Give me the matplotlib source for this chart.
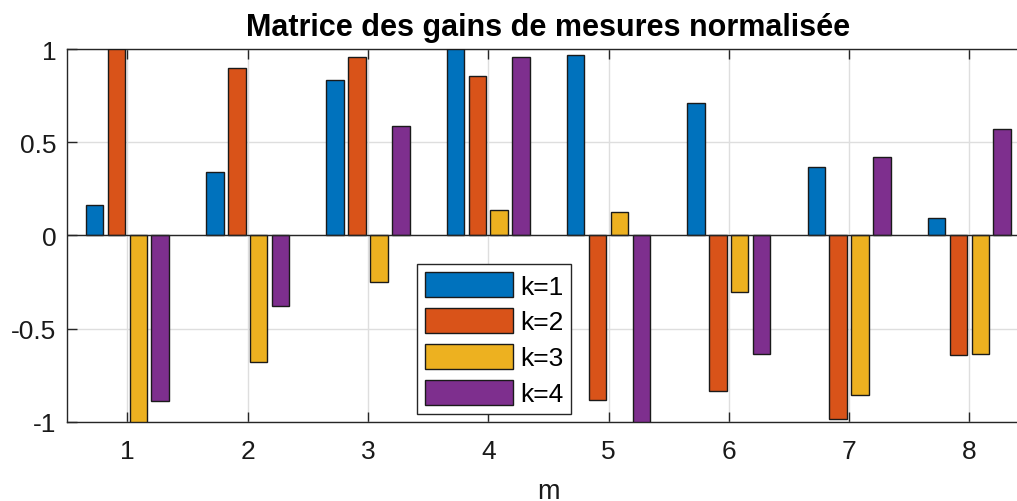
import numpy as np
import matplotlib
matplotlib.use("Agg")
import matplotlib.pyplot as plt

# Normalised measurement gain matrix: rows = measurement index m, columns = k
m_values = [1, 2, 3, 4, 5, 6, 7, 8]
gain_k1 = [0.161, 0.342, 0.833, 1.000, 0.970, 0.708, 0.367, 0.095]
gain_k2 = [1.000, 0.896, 0.955, 0.853, -0.884, -0.833, -0.986, -0.642]
gain_k3 = [-1.000, -0.677, -0.253, 0.138, 0.124, -0.305, -0.857, -0.636]
gain_k4 = [-0.891, -0.380, 0.586, 0.959, -1.000, -0.636, 0.419, 0.573]
series_labels = ["k=1", "k=2", "k=3", "k=4"]
y_ticks = [-1, -0.5, 0, 0.5, 1]
y_tick_labels = ["-1", "-0.5", "0", "0.5", "1"]

colors = ["#0072BD", "#D95319", "#EDB120", "#7E2F8E"]

plt.rcParams["font.family"] = ["Liberation Sans", "DejaVu Sans"]
plt.rcParams["axes.unicode_minus"] = False

W, H = 1017, 502
fig = plt.figure(figsize=(W / 100, H / 100), dpi=100)
ax = fig.add_axes([67.3 / W, 79.3 / H, (1029.5 - 67.3) / W, (422.7 - 50) / H])

series = [gain_k1, gain_k2, gain_k3, gain_k4]
n = len(series)
group_width = min(0.8, n / (n + 1.5))
step = group_width / n
bar_w = 0.8 * step
x = np.array(m_values, dtype=float)
for i, (vals, lab, col) in enumerate(zip(series, series_labels, colors)):
    ax.bar(x + (i - (n - 1) / 2) * step, vals, width=bar_w, color=col,
           edgecolor="#1a1a1a", linewidth=1.0, label=lab, zorder=3)

ax.axhline(0, color="#262626", linewidth=1.0, zorder=4)

ax.set_xlim(0.5, 8.5)
ax.set_ylim(-1, 1)
ax.set_xticks(m_values)
ax.set_xticklabels([str(v) for v in m_values])
ax.set_yticks(y_ticks)
ax.set_yticklabels(y_tick_labels)

ax.set_axisbelow(True)
ax.grid(True, color="#dedede", linewidth=1.0)
for s in ax.spines.values():
    s.set_color("#262626")
    s.set_linewidth(1.0)

ax.tick_params(axis="both", direction="in", length=7, width=1.0,
               color="#262626", labelcolor="#1a1a1a", labelsize=19,
               top=True, right=True)
ax.tick_params(axis="y", pad=8)
ax.tick_params(axis="x", pad=12.5)

ax.set_title("Matrice des gains de mesures normalisée", fontsize=22,
             fontweight="bold", pad=10)
ax.set_xlabel("m", fontsize=19.5, labelpad=10.5, color="#1a1a1a")

leg = ax.legend(loc="upper left", bbox_to_anchor=(417 / W, 1 - 265 / H),
                bbox_transform=fig.transFigure, borderaxespad=0,
                fontsize=19, handlelength=3.35, handleheight=1.1,
                handletextpad=0.25, labelspacing=0.35, borderpad=0.3,
                fancybox=False, framealpha=1.0, edgecolor="#262626")
leg.get_frame().set_linewidth(1.0)

fig.savefig("out.png", dpi=100)
